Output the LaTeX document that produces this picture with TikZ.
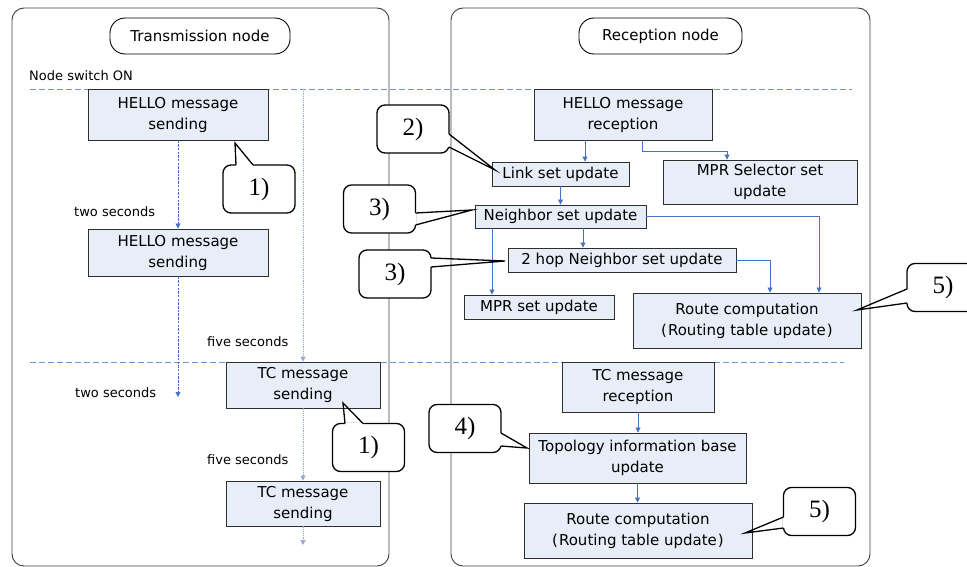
\documentclass[tikz,border=0pt]{standalone}
\usepackage{fontspec}
\setmainfont{DejaVu Sans}
\newfontfamily\numfont{Liberation Serif}
\usetikzlibrary{arrows.meta,calc}
\definecolor{boxfill}{HTML}{E7EEF8}
\definecolor{arrowblue}{HTML}{4472C4}
\definecolor{dashblue}{HTML}{6F93D6}
\definecolor{dotblue}{HTML}{8EA9DB}
\definecolor{boxedge}{HTML}{2E2E2E}
\tikzset{
 panel/.style={draw=black!75, line width=0.9pt, rounded corners=12pt},
 titlebox/.style={draw=black, line width=0.9pt, rounded corners=15pt, minimum height=36pt, inner sep=0pt, font=\fontsize{15}{18}\selectfont},
 flowbox/.style={draw=boxedge, fill=boxfill, line width=0.9pt, align=center, inner sep=0pt, font=\fontsize{15}{21}\selectfont},
 lbl/.style={font=\fontsize{13}{15}\selectfont, inner sep=0pt, anchor=west},
 flow/.style={draw=arrowblue, line width=0.8pt, -{Triangle[length=5pt,width=5pt]}},
 tick/.style={draw=arrowblue, line width=0.8pt, dash pattern=on 2.5pt off 1.2pt, -{Triangle[length=5pt,width=5pt]}},
 dotline/.style={draw=dotblue, line width=0.9pt, dash pattern=on 1.2pt off 1pt, -{Triangle[length=5pt,width=5pt]}},
 sepline/.style={draw=dashblue, line width=0.9pt, dash pattern=on 6pt off 3pt},
 callbody/.style={draw=black, line width=1.3pt, rounded corners=8pt, fill=white, inner sep=0pt, minimum width=72pt, minimum height=48pt, font=\numfont\fontsize{25}{25}\selectfont},
}
\newcommand{\ptr}[4]{%
 \fill[white] ($#1-0.9*#4$) -- ($#2-0.9*#4$) -- ($#2+1.6*#4$) -- ($#1+1.6*#4$) -- cycle;
 \draw[line width=1.3pt] #1 -- #3 -- #2;
}
\begin{document}
\begin{tikzpicture}[x=1pt,y=-1pt]
\useasboundingbox (0,0) rectangle (967,567);
\clip (0,0) rectangle (967,567);
\fill[white] (0,0) rectangle (967,567);
% panels
\draw[panel] (12,8) rectangle (389,566);
\draw[panel] (451,8) rectangle (870,566);
\node[titlebox, minimum width=180pt] (tn) at (200,36) {Transmission node};
\node[titlebox, minimum width=163pt] (rn) at (660.5,36) {Reception node};
\node[lbl] (sw) at (29,76) {Node switch ON};
% separators
\coordinate (sA) at (30,89); \coordinate (sB) at (852,89);
\coordinate (sC) at (30,362); \coordinate (sD) at (844,362);
\draw[sepline] (sA) -- (sB);
\draw[sepline] (sC) -- (sD);
% left column
\node[flowbox, minimum width=180pt, minimum height=51pt] (hs1) at (178,114.5) {HELLO message\\sending};
\node[flowbox, minimum width=180pt, minimum height=47pt] (hs2) at (178,252.5) {HELLO message\\sending};
\node[flowbox, minimum width=154pt, minimum height=46pt] (tc1) at (303,385) {TC message\\sending};
\node[flowbox, minimum width=154pt, minimum height=45pt] (tc2) at (303,503.5) {TC message\\sending};
\coordinate (e1) at (178,397);
\coordinate (s1) at (303,89);
\coordinate (e2) at (303,545);
\draw[tick] (hs1.south) -- (hs2.north);
\draw[tick] (hs2.south) -- (e1);
\draw[dotline] (s1) -- (tc1.north);
\draw[dotline] (tc1.south) -- (tc2.north);
\draw[dotline] (tc2.south) -- (e2);
\node[lbl] (l2a) at (74,212) {two seconds};
\node[lbl] (l2b) at (75,393) {two seconds};
\node[lbl] (l5a) at (207,342) {five seconds};
\node[lbl] (l5b) at (207,460) {five seconds};
% right column
\node[flowbox, minimum width=178pt, minimum height=51pt] (hr) at (623,114.5) {HELLO message\\reception};
\node[flowbox, minimum width=137pt, minimum height=24pt] (ls) at (560.5,174) {Link set update};
\node[flowbox, minimum width=194pt, minimum height=44pt] (mprs) at (760,182) {MPR Selector set\\update};
\node[flowbox, minimum width=171pt, minimum height=23pt] (ns) at (560.5,216.5) {Neighbor set update};
\node[flowbox, minimum width=228pt, minimum height=24pt] (hop) at (622,260) {2 hop Neighbor set update};
\node[flowbox, minimum width=150pt, minimum height=24pt] (mpr) at (539,307) {MPR set update};
\node[flowbox, minimum width=228pt, minimum height=55pt] (rc1) at (747,320.5) {Route computation\\(\kern1pt Routing table update\kern1pt)};
\node[flowbox, minimum width=152pt, minimum height=50pt] (tcr) at (638,387) {TC message\\reception};
\node[flowbox, minimum width=217pt, minimum height=50pt] (tib) at (637.5,458) {Topology information base\\update};
\node[flowbox, minimum width=228pt, minimum height=55pt] (rc2) at (638,530.5) {Route computation\\(\kern1pt Routing table update\kern1pt)};
\draw[flow] ([xshift=-38pt]hr.south) -- ([xshift=-38pt]hr.south |- ls.north);
\draw[flow] ([xshift=19pt]hr.south) -- ++(0,11) -| ([xshift=-33pt]mprs.north);
\draw[flow] (ls.south) -- (ls.south |- ns.north);
\draw[flow] ([xshift=22.5pt]ns.south) -- ([xshift=22.5pt]ns.south |- hop.north);
\draw[flow] ([xshift=-68.5pt]ns.south) -- ([xshift=-68.5pt]ns.south |- mpr.north);
\draw[flow] (ns.east) -| ([xshift=72pt]rc1.north);
\draw[flow] (hop.east) -| ([xshift=23pt]rc1.north);
\draw[flow] (tcr.south) -- (tcr.south |- tib.north);
\draw[flow] (tib.south) -- (tib.south |- rc2.north);
% callouts
\node[callbody] (c1a) at (259,189) {1)};
\ptr{(236,165)}{(253,165)}{(235,143)}{(0,1)}
\node[callbody] (c1b) at (368.5,447.5) {1)};
\ptr{(345,423.5)}{(363,423.5)}{(343,403)}{(0,1)}
\node[callbody] (c2) at (413,129) {2)};
\ptr{(449,134)}{(449,147)}{(495,170)}{(-1,0)}
\node[callbody] (c3a) at (379.5,209) {3)};
\ptr{(415.5,213)}{(415.5,225)}{(472,210)}{(-1,0)}
\node[callbody] (c3b) at (395,274) {3)};
\ptr{(431,258)}{(431,267)}{(505,261)}{(-1,0)}
\node[callbody] (c4) at (465,428.5) {4)};
\ptr{(501,433)}{(501,446)}{(527,448)}{(-1,0)}
\node[callbody] (c5a) at (943,287.5) {5)};
\ptr{(907,289)}{(907,303)}{(857,310)}{(1,0)}
\node[callbody] (c5b) at (819.5,511.5) {5)};
\ptr{(783.5,517)}{(783.5,528)}{(745,533)}{(1,0)}
\end{tikzpicture}
\end{document}
